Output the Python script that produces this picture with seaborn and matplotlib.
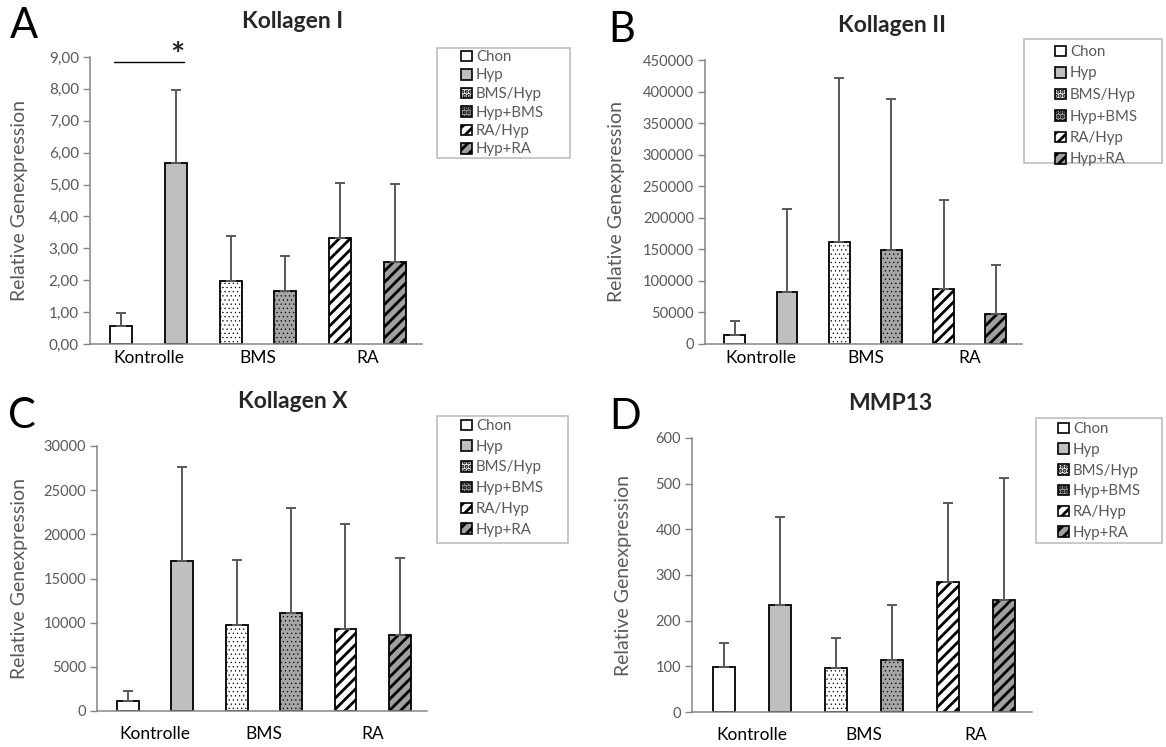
import matplotlib
matplotlib.use("Agg")
import matplotlib.pyplot as plt
from matplotlib.patches import Patch, Rectangle
from matplotlib.ticker import FuncFormatter, MultipleLocator
import seaborn as sns
import numpy as np
import pandas as pd

# Series (one bar each) and the three groups they belong to
series = ["Chon", "Hyp", "BMS/Hyp", "Hyp+BMS", "RA/Hyp", "Hyp+RA"]
groups = ["Kontrolle", "BMS", "RA"]

# Means and upper error (SD)
kol1_mean = [0.57, 5.69, 1.99, 1.65, 3.32, 2.58]
kol1_err = [0.41, 2.26, 1.41, 1.10, 1.73, 2.44]
kol2_mean = [14300, 82400, 161600, 148400, 87700, 48100]
kol2_err = [22100, 131500, 259300, 239800, 140500, 76600]
kol10_mean = [1150, 17000, 9700, 11150, 9300, 8600]
kol10_err = [1100, 10600, 7400, 11850, 11850, 8700]
mmp13_mean = [99, 234, 97, 113, 285, 246]
mmp13_err = [52, 192, 65, 121, 173, 267]

sig_level = 8.83  # significance bar Kontrolle Chon vs Hyp in Kollagen I

colors = ["#ffffff", "#bfbfbf", "#ffffff", "#a6a6a6", "#ffffff", "#a0a0a0"]
hatches = ["", "", "....", "....", "///", "///"]

W, H = 1166, 747
sns.set_theme(style="white")
plt.rcParams["font.family"] = ["Lato", "DejaVu Sans"]
plt.rcParams["hatch.linewidth"] = 2.0

GRAY = "#595959"
AXC = "#868686"

fig = plt.figure(figsize=(W / 100, H / 100), dpi=100)


def px_axes(l, r, t, b):
    return fig.add_axes([l / W, 1 - b / H, (r - l) / W, (b - t) / H])


panels = [
    dict(letter="A", title="Kollagen I", mean=kol1_mean, err=kol1_err,
         box=(90, 422, 57, 344), ymax=9, step=1, comma=True,
         lbox=(437, 48, 570, 158), lanchor=(461, 50), lsp=0.3, lfs=10.8,
         letter_xy=(24, 26), title_xy=(293, 22), ylab_x=-0.187, tfs=11, pad=4),
    dict(letter="B", title="Kollagen II", mean=kol2_mean, err=kol2_err,
         box=(705, 1022, 60, 344), ymax=450000, step=50000, comma=False,
         lbox=(1024, 39, 1162, 163), lanchor=(1055, 45), lsp=0.5, lfs=10.8,
         letter_xy=(622, 30), title_xy=(892, 25), ylab_x=-0.252, tfs=10.5, pad=4),
    dict(letter="C", title="Kollagen X", mean=kol10_mean, err=kol10_err,
         box=(97, 427, 446, 711), ymax=30000, step=5000, comma=False,
         lbox=(437, 416, 568, 543), lanchor=(461, 419), lsp=0.45, lfs=10.8,
         letter_xy=(22, 416), title_xy=(293, 401), ylab_x=-0.209, tfs=10.5, pad=11),
    dict(letter="D", title="MMP13", mean=mmp13_mean, err=mmp13_err,
         box=(692, 1032, 438, 712), ymax=600, step=100, comma=False,
         lbox=(1036, 418, 1162, 543), lanchor=(1058, 422), lsp=0.45, lfs=10.8,
         letter_xy=(625, 417), title_xy=(890, 404), ylab_x=-0.176, tfs=10.5, pad=11),
]

for p in panels:
    ax = px_axes(*p["box"])
    df = pd.DataFrame({"series": series, "value": p["mean"]})
    sns.barplot(data=df, x="series", y="value", hue="series", order=series,
                palette=colors, width=0.4, edgecolor="black", linewidth=1.3,
                errorbar=None, legend=False, ax=ax, saturation=1)
    for bar, h in zip(ax.patches, hatches):
        bar.set_hatch(h)
        if hasattr(bar, "set_hatch_linewidth"):
            bar.set_hatch_linewidth(0.4 if h.startswith(".") else 2.0)
    ax.errorbar(np.arange(len(series)), p["mean"],
                yerr=[np.zeros(len(series)), p["err"]], fmt="none",
                ecolor=GRAY, elinewidth=1.4, capsize=3.6, capthick=1.4, zorder=1)

    ax.set_xlim(-0.57, 5.5)
    ax.set_ylim(0, p["ymax"])
    ax.yaxis.set_major_locator(MultipleLocator(p["step"]))
    if p["comma"]:
        ax.yaxis.set_major_formatter(FuncFormatter(lambda v, _: f"{v:.2f}".replace(".", ",")))
    else:
        ax.yaxis.set_major_formatter(FuncFormatter(lambda v, _: f"{v:.0f}"))
    ax.set_xticks([0.5, 2.5, 4.5], groups)
    ax.tick_params(axis="x", length=0, labelsize=12.5, labelcolor="black", pad=p["pad"])
    ax.tick_params(axis="y", length=5, width=1, color=AXC, direction="out",
                   left=True, labelsize=p["tfs"], labelcolor=GRAY, pad=3)
    for s in ["top", "right"]:
        ax.spines[s].set_visible(False)
    for s in ["left", "bottom"]:
        ax.spines[s].set_color(AXC)
        ax.spines[s].set_linewidth(1.1)
    ax.set_xlabel("")
    ax.set_ylabel("Relative Genexpression", fontsize=14, color=GRAY)
    ax.yaxis.set_label_coords(p["ylab_x"], 0.5)

    fig.text(p["title_xy"][0] / W, 1 - p["title_xy"][1] / H, p["title"],
             ha="center", va="center", fontsize=16.5, fontweight="bold")
    fig.text(p["letter_xy"][0] / W, 1 - p["letter_xy"][1] / H, p["letter"],
             ha="center", va="center", fontsize=30, color="black")

    x0, y0, x1, y1 = p["lbox"]
    fig.patches.append(Rectangle((x0 / W, 1 - y1 / H), (x1 - x0) / W, (y1 - y0) / H,
                                 transform=fig.transFigure, fill=False,
                                 edgecolor="#bfbfbf", linewidth=1.2))
    handles = [Patch(facecolor=c, edgecolor="black", hatch=h, linewidth=1.2)
               for c, h in zip(colors, hatches)]
    fig.legend(handles, series, loc="upper left",
               bbox_to_anchor=(p["lanchor"][0] / W, 1 - p["lanchor"][1] / H),
               frameon=False, borderpad=0, borderaxespad=0,
               handlelength=0.7, handleheight=0.7, handletextpad=0.3,
               labelspacing=p["lsp"], fontsize=p["lfs"], labelcolor=GRAY)

    if p["letter"] == "A":
        ax.plot([-0.13, 1.15], [sig_level, sig_level], color="black", lw=1,
                clip_on=False)
        ax.text(1.03, sig_level + 0.2, "*", ha="center", va="center",
                fontsize=24, fontweight="bold", clip_on=False)

fig.savefig("out.png", dpi=100)
